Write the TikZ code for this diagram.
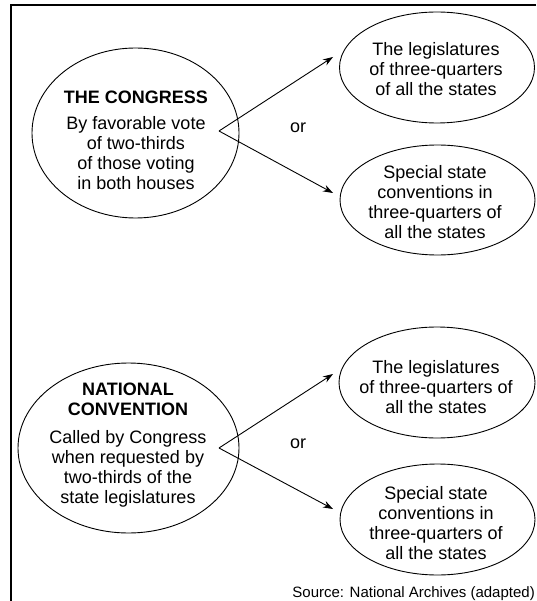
\documentclass[tikz,border=0pt]{standalone}
\usepackage{fontspec}
\setmainfont{Liberation Sans}
\usetikzlibrary{arrows.meta,shapes.geometric}
\tikzset{
  bubble/.style={draw=black, line width=0.9pt, ellipse, inner sep=0pt},
  txt/.style={anchor=north, align=center, inner sep=0pt, font=\fontsize{18}{20}\selectfont},
  ortxt/.style={anchor=base, inner sep=0pt, font=\fontsize{18}{20}\selectfont},
  link/.style={line width=0.9pt, -{Stealth[length=10pt,width=7pt]}},
  frameline/.style={line width=2pt}
}
\begin{document}
\begin{tikzpicture}[x=1pt,y=-1pt]
\useasboundingbox (0,0) rectangle (536,601);
% frame
\coordinate (fr) at (536,5);
\coordinate (fc) at (10.5,5);
\coordinate (fb) at (10.5,601);
\draw[frameline] (fr) -- (fc) -- (fb);

% upper part
\node[bubble, minimum width=207pt, minimum height=170pt] (ec) at (135.5,133) {};
\node[txt] (tc) at (136,90.5) {\bfseries THE CONGRESS\\[6pt]By favorable vote\\of two-thirds\\of those voting\\in both houses};
\node[bubble, minimum width=195pt, minimum height=111pt] (e1) at (437,67.5) {};
\node[txt] (t1) at (436,42.5) {The legislatures\\of three-quarters\\of all the states};
\node[bubble, minimum width=195pt, minimum height=110pt] (e2) at (437.5,200) {};
\node[txt] (t2) at (435,165.5) {Special state\\conventions in\\three-quarters of\\all the states};
\coordinate (v1) at (219,131);
\coordinate (p1) at (333,57);
\coordinate (p2) at (333,193);
\draw[link] (v1) -- (p1);
\draw[link] (v1) -- (p2);
\node[ortxt] (or1) at (298,133) {or};

% lower part
\node[bubble, minimum width=221pt, minimum height=170pt] (en) at (128.5,448) {};
\node[txt] (tn) at (128,382.5) {\bfseries NATIONAL\\\bfseries CONVENTION\\[8pt]Called by Congress\\when requested by\\two-thirds of the\\state legislatures};
\node[bubble, minimum width=196pt, minimum height=111pt] (e3) at (437,382.5) {};
\node[txt] (t3) at (436,360.5) {The legislatures\\of three-quarters of\\all the states};
\node[bubble, minimum width=195pt, minimum height=111pt] (e4) at (437.5,519.5) {};
\node[txt] (t4) at (436,486) {Special state\\conventions in\\three-quarters of\\all the states};
\coordinate (v2) at (219,448);
\coordinate (p3) at (333,374);
\coordinate (p4) at (333,509);
\draw[link] (v2) -- (p3);
\draw[link] (v2) -- (p4);
\node[ortxt] (or2) at (298,448) {or};

\node[anchor=base east, inner sep=0pt, font=\fontsize{15}{18}\selectfont] (src) at (535,597) {Source: National Archives (adapted)};
\end{tikzpicture}
\end{document}
